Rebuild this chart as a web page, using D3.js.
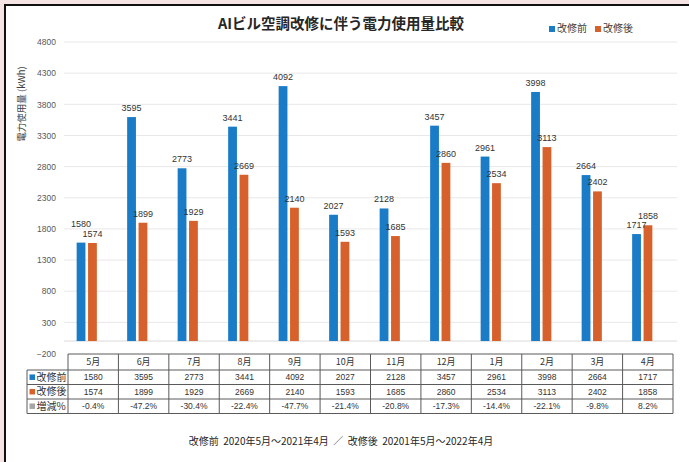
<!DOCTYPE html>
<html><head><meta charset="utf-8">
<script src="https://cdn.jsdelivr.net/npm/d3@7"></script>
<style>
html,body{margin:0;padding:0;background:#f6e4e4;}
svg{display:block;}
text{font-family:"Liberation Sans","Noto Sans CJK JP",sans-serif;}
.jp{font-family:"Noto Sans CJK JP","Noto Sans",sans-serif;}
</style></head>
<body>
<script>
const months = ["5月","6月","7月","8月","9月","10月","11月","12月","1月","2月","3月","4月"];
const seriesNames = ["改修前","改修後"];
const before = [1580,3595,2773,3441,4092,2027,2128,3457,2961,3998,2664,1717];
const after  = [1574,1899,1929,2669,2140,1593,1685,2860,2534,3113,2402,1858];
const changePct = ["-0.4%","-47.2%","-30.4%","-22.4%","-47.7%","-21.4%","-20.8%","-17.3%","-14.4%","-22.1%","-9.8%","8.2%"];
const yTicks = [-200,300,800,1300,1800,2300,2800,3300,3800,4300,4800];
const rowLabels = ["改修前","改修後","増減%"];
const colors = ["#1a7bc6","#d6612c","#a6a6a6"];

const W = 689, H = 462;
const svg = d3.select("body").append("svg").attr("width", W).attr("height", H);
svg.append("rect").attr("x",0).attr("y",0).attr("width",W).attr("height",H).attr("fill","#f6e4e4");
svg.append("rect").attr("x",5).attr("y",5).attr("width",W+10).attr("height",H+10)
  .attr("fill","#ffffff").attr("stroke","#111").attr("stroke-width",2);

const y = d3.scaleLinear().domain([-200,4800]).range([353.5,42]);
const x0 = d3.scaleBand().domain(months).range([61.5,667.5]).padding(0);
const x1 = d3.scaleBand().domain(seriesNames).range([0,20.2]).paddingInner(0.23).paddingOuter(0);
const groupOff = (x0.bandwidth() - 20.2) / 2;
const tx = d3.scaleBand().domain(months).range([68,673]).padding(0);

// gridlines
svg.append("g").selectAll("line").data(yTicks.filter(t=>t>-200)).join("line")
  .attr("x1",64).attr("x2",677)
  .attr("y1",d=>y(d)).attr("y2",d=>y(d))
  .attr("stroke","#e8e8e8").attr("stroke-width",1);
// zero axis
svg.append("line").attr("x1",64).attr("x2",677).attr("y1",y(0)).attr("y2",y(0))
  .attr("stroke","#d9d9d9").attr("stroke-width",1);

// y axis labels
const yAxis = d3.axisLeft(y).tickValues(yTicks).tickFormat(d3.format("d")).tickSize(0).tickPadding(0);
const ya = svg.append("g").attr("transform","translate(56,0)").call(yAxis);
ya.select(".domain").remove();
ya.selectAll("text").attr("font-size",8.5).attr("fill","#595959")
  .attr("font-family","Liberation Sans, sans-serif");

// y title
svg.append("text").attr("class","jp")
  .attr("transform","translate(25,104) rotate(-90)")
  .attr("text-anchor","middle").attr("font-size",9.5).attr("fill","#404040")
  .text("電力使用量 (kWh)");

// bars
const seriesData = [before, after];
const groups = svg.append("g").selectAll("g").data(months).join("g")
  .attr("transform", m => `translate(${x0(m)+groupOff},0)`);
groups.selectAll("rect").data((m,i)=>seriesNames.map((s,k)=>({s,k,v:seriesData[k][i]}))).join("rect")
  .attr("x", d=>x1(d.s)).attr("width", x1.bandwidth())
  .attr("y", d=>y(Math.max(0,d.v))).attr("height", d=>Math.abs(y(d.v)-y(0)))
  .attr("fill", d=>colors[d.k]);

// value labels
groups.each(function(m,i){
  const g = d3.select(this);
  const yb = y(before[i]) - 6, ya2 = y(after[i]) - 6;
  let lb = yb, la = ya2;
  if (Math.abs(yb-ya2) < 4) { lb = Math.min(yb,ya2) - 9.5; }
  g.append("text").attr("x", x1("改修前")+x1.bandwidth()/2).attr("y", lb)
    .attr("text-anchor","middle").attr("font-size",9).attr("fill","#333").text(before[i]);
  g.append("text").attr("x", x1("改修後")+x1.bandwidth()/2).attr("y", la)
    .attr("text-anchor","middle").attr("font-size",9).attr("fill","#333").text(after[i]);
});

// title
svg.append("text").attr("class","jp").attr("x",341).attr("y",29)
  .attr("text-anchor","middle").attr("font-size",14.5).attr("font-weight","bold").attr("fill","#262626")
  .text("AIビル空調改修に伴う電力使用量比較");

// legend
const lg = svg.append("g").attr("transform","translate(549,32)");
seriesNames.forEach((s,k)=>{
  const gx = k*46;
  lg.append("rect").attr("x",gx).attr("y",-6).attr("width",6).attr("height",6).attr("fill",colors[k]);
  lg.append("text").attr("class","jp").attr("x",gx+8).attr("y",0).attr("font-size",10).attr("fill","#404040").text(s);
});

// table
const rowY = [354,370,384.5,399,413.5];
const tLeft = 27, tRight = tx.range()[1];
const tb = svg.append("g");
const lineC = "#5a5a5a";
tb.append("line").attr("x1",68).attr("x2",tRight).attr("y1",rowY[0]).attr("y2",rowY[0]).attr("stroke",lineC);
rowY.slice(1).forEach(yy=>{
  tb.append("line").attr("x1",tLeft).attr("x2",tRight).attr("y1",yy).attr("y2",yy).attr("stroke",lineC);
});
tb.append("line").attr("x1",tLeft).attr("x2",tLeft).attr("y1",rowY[1]).attr("y2",rowY[4]).attr("stroke",lineC);
months.forEach(m=>{
  tb.append("line").attr("x1",tx(m)).attr("x2",tx(m)).attr("y1",rowY[0]).attr("y2",rowY[4]).attr("stroke",lineC);
});
tb.append("line").attr("x1",tRight).attr("x2",tRight).attr("y1",rowY[0]).attr("y2",rowY[4]).attr("stroke",lineC);

months.forEach(m=>{
  tb.append("text").attr("class","jp").attr("x",tx(m)+tx.bandwidth()/2).attr("y",(rowY[0]+rowY[1])/2+3.3)
    .attr("text-anchor","middle").attr("font-size",9).attr("fill","#333").text(m);
});
const rowVals = [before.map(String), after.map(String), changePct];
rowLabels.forEach((lab,r)=>{
  const cy = (rowY[r+1]+rowY[r+2])/2;
  tb.append("rect").attr("x",tLeft+2.5).attr("y",cy-2.8).attr("width",5.5).attr("height",5.5).attr("fill",colors[r]);
  tb.append("text").attr("class","jp").attr("x",tLeft+9.5).attr("y",cy+3.4).attr("font-size",10).attr("fill","#333").text(lab);
  months.forEach((m,i)=>{
    tb.append("text").attr("x",tx(m)+tx.bandwidth()/2).attr("y",cy+3.2)
      .attr("text-anchor","middle").attr("font-size",8.5).attr("fill","#333").text(rowVals[r][i]);
  });
});

// footer
svg.append("text").attr("class","jp").attr("x",341).attr("y",445)
  .attr("text-anchor","middle").attr("font-size",10).attr("fill","#262626")
  .attr("xml:space","preserve")
  .text("改修前  2020年5月～2021年4月  ／  改修後  20201年5月～2022年4月");
</script>
</body></html>
